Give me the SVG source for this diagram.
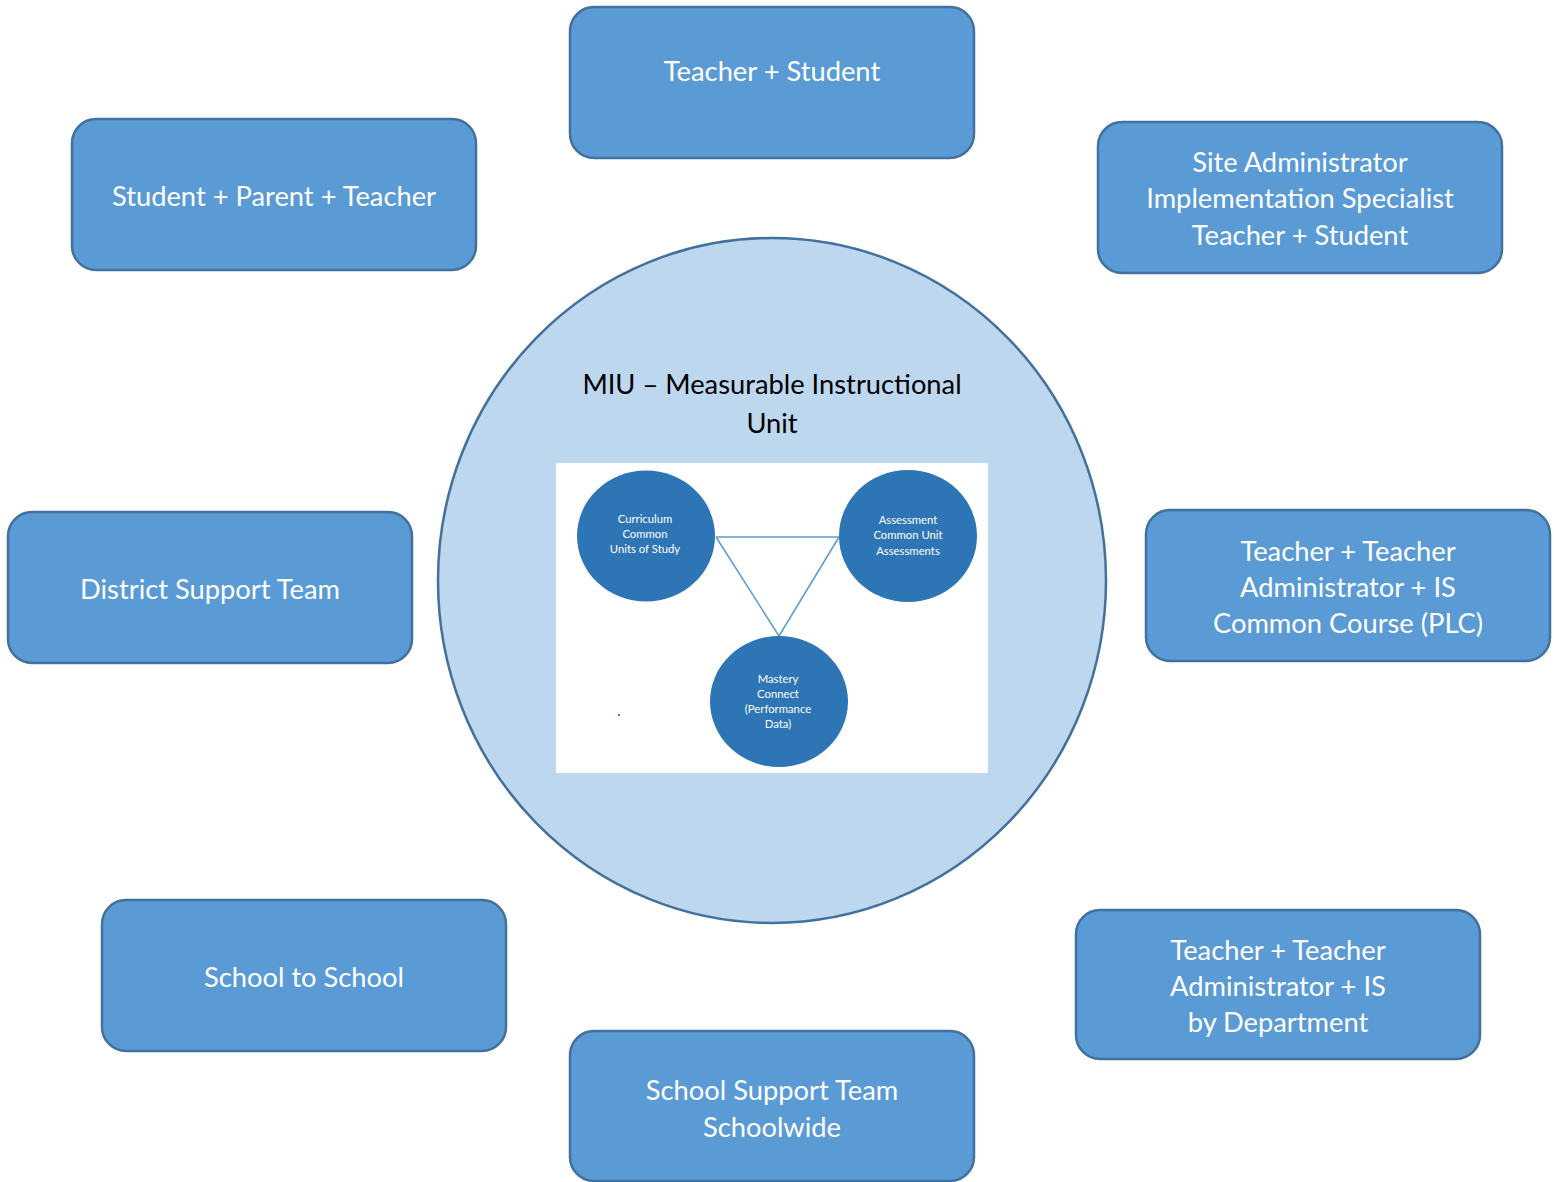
<svg xmlns="http://www.w3.org/2000/svg" width="1554" height="1182" viewBox="0 0 1554 1182">
<style>
.box{fill:#5B9BD5;stroke:#41719C;stroke-width:2.5}
.bt{font-family:Lato,"Open Sans","Liberation Sans",sans-serif;font-size:27.3px;fill:#FFFFFF;text-anchor:middle;dominant-baseline:central}
.st{font-family:Lato,"Open Sans","Liberation Sans",sans-serif;font-size:11.3px;fill:#FFFFFF;text-anchor:middle;dominant-baseline:central}
.sc{fill:#2E75B6}
.ln{stroke:#5B9BD5;stroke-width:1.5;fill:none}
</style>
<rect width="1554" height="1182" fill="#FFFFFF"/>
<g id="miu">
<ellipse cx="772" cy="580.5" rx="334" ry="342.5" fill="#BDD7EE" stroke="#41719C" stroke-width="2.5"/>
<text class="bt" style="fill:#000000" x="772" y="383">MIU – Measurable Instructional</text>
<text class="bt" style="fill:#000000" x="772" y="422">Unit</text>
<rect x="556" y="463" width="432" height="310" fill="#FFFFFF"/>
</g>
<g id="connectors">
<line class="ln" x1="716" y1="537" x2="839" y2="537"/>
<line class="ln" x1="716" y1="537" x2="779" y2="636"/>
<line class="ln" x1="839" y1="537" x2="779" y2="636"/>
</g>
<g id="curriculum">
<ellipse class="sc" cx="646" cy="536" rx="69" ry="65.5"/>
<text class="st" x="645" y="518.5">Curriculum</text>
<text class="st" x="645" y="533.5">Common</text>
<text class="st" x="645" y="548">Units of Study</text>
</g>
<g id="assessment">
<ellipse class="sc" cx="908" cy="536" rx="69" ry="66"/>
<text class="st" x="908" y="519.5">Assessment</text>
<text class="st" x="908" y="534.5">Common Unit</text>
<text class="st" x="908" y="550">Assessments</text>
</g>
<g id="mastery">
<ellipse class="sc" cx="779" cy="701.5" rx="69" ry="65.5"/>
<text class="st" x="778" y="678">Mastery</text>
<text class="st" x="778" y="693">Connect</text>
<text class="st" x="778" y="708.5">(Performance</text>
<text class="st" x="778" y="723.5">Data)</text>
</g>
<circle cx="619" cy="715" r="1" fill="#3333FF"/>
<g id="teacher-student">
<rect class="box" x="570" y="7" width="404" height="151" rx="24"/>
<text class="bt" x="772" y="70">Teacher + Student</text>
</g>
<g id="student-parent-teacher">
<rect class="box" x="72" y="119" width="404" height="151" rx="24"/>
<text class="bt" x="274" y="195">Student + Parent + Teacher</text>
</g>
<g id="site-admin">
<rect class="box" x="1098" y="122" width="404" height="151" rx="24"/>
<text class="bt" x="1300" y="161">Site Administrator</text>
<text class="bt" x="1300" y="197">Implementation Specialist</text>
<text class="bt" x="1300" y="234">Teacher + Student</text>
</g>
<g id="district-support">
<rect class="box" x="8" y="512" width="404" height="151" rx="24"/>
<text class="bt" x="210" y="588">District Support Team</text>
</g>
<g id="teacher-plc">
<rect class="box" x="1146" y="510" width="404" height="151" rx="24"/>
<text class="bt" x="1348" y="550">Teacher + Teacher</text>
<text class="bt" x="1348" y="586">Administrator + IS</text>
<text class="bt" x="1348" y="622">Common Course (PLC)</text>
</g>
<g id="school-to-school">
<rect class="box" x="102" y="900" width="404" height="151" rx="24"/>
<text class="bt" x="304" y="976">School to School</text>
</g>
<g id="teacher-dept">
<rect class="box" x="1076" y="910" width="404" height="149" rx="24"/>
<text class="bt" x="1278" y="949">Teacher + Teacher</text>
<text class="bt" x="1278" y="985">Administrator + IS</text>
<text class="bt" x="1278" y="1021">by Department</text>
</g>
<g id="school-support">
<rect class="box" x="570" y="1031" width="404" height="150" rx="24"/>
<text class="bt" x="772" y="1089">School Support Team</text>
<text class="bt" x="772" y="1126">Schoolwide</text>
</g>
</svg>
